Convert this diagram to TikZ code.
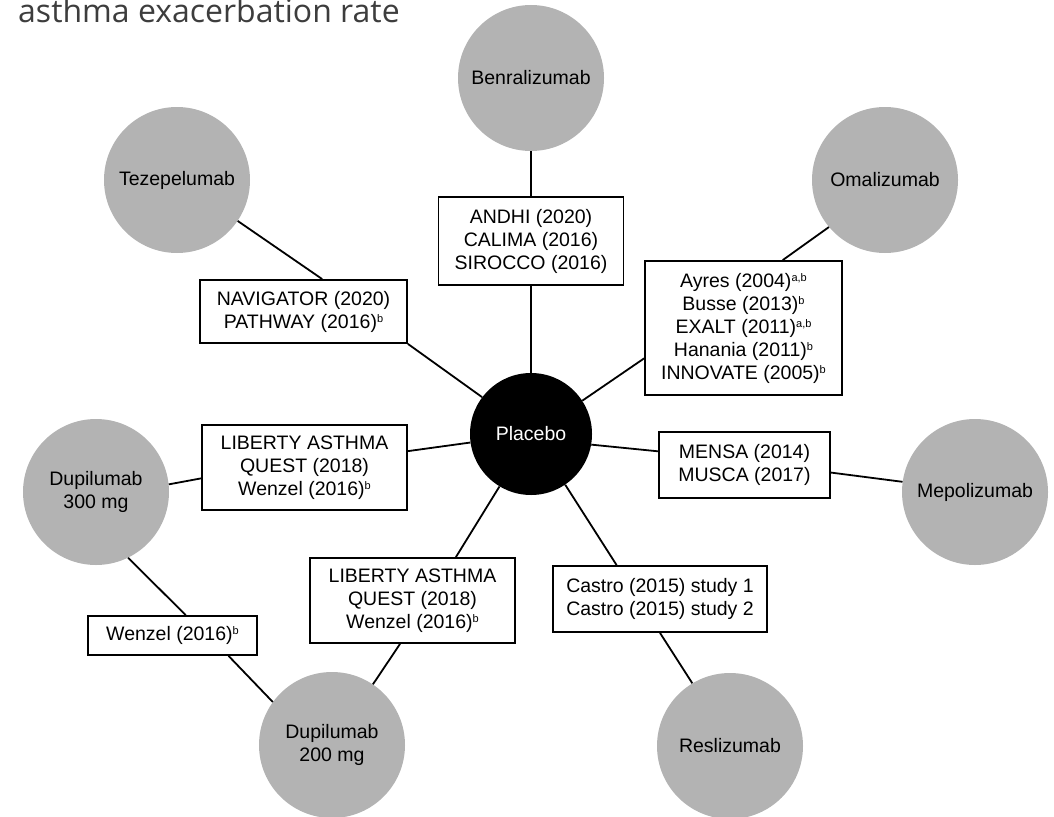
\documentclass[tikz,border=0pt]{standalone}
\usepackage{fontspec}
\setmainfont{Liberation Sans}
\newfontfamily\titlefont{Open Sans}
\definecolor{drugfill}{HTML}{B3B3B3}
\definecolor{titlegray}{HTML}{3D3D3D}
\newcommand{\supnote}[1]{\raisebox{6pt}{\fontsize{11}{11}\selectfont #1}}
\begin{document}
\begin{tikzpicture}[x=1pt,y=-1pt,
  drug/.style={circle,fill=drugfill,minimum size=146pt,inner sep=0pt,align=center,font=\fontsize{19.5}{23}\selectfont},
  plac/.style={circle,fill=black,text=white,minimum size=122pt,inner sep=0pt,font=\fontsize{19.5}{23}\selectfont},
  trial/.style={draw,line width=1.8pt,fill=white,align=center,inner sep=0pt,font=\fontsize{19.5}{23}\selectfont},
  link/.style={line width=1.8pt}]
\useasboundingbox (0,0) rectangle (1054,816);
\node[anchor=base west,inner sep=0pt,text=titlegray,font=\titlefont\fontsize{32}{38}\selectfont] (title) at (18,23) {asthma exacerbation rate};
\node[drug] (benra) at (531,78) {Benralizumab};
\node[drug] (teze) at (177,180) {Tezepelumab};
\node[drug] (omal) at (885,180) {Omalizumab};
\node[plac] (placebo) at (531,434) {Placebo};
\node[drug] (dupi300) at (96,492) {Dupilumab\\300 mg};
\node[drug] (mepo) at (975,492) {Mepolizumab};
\node[drug] (dupi200) at (332,745) {Dupilumab\\200 mg};
\node[drug] (resli) at (730,746) {Reslizumab};
\node[trial,minimum width=185pt,minimum height=88pt] (benratrials) at (531,241) {ANDHI (2020)\\CALIMA (2016)\\SIROCCO (2016)};
\node[trial,minimum width=207pt,minimum height=63pt] (tezetrials) at (303.5,311.5) {NAVIGATOR (2020)\\PATHWAY (2016)\supnote{b}};
\node[trial,minimum width=197pt,minimum height=134pt] (omaltrials) at (743.5,328) {Ayres (2004)\supnote{a,b}\\Busse (2013)\supnote{b}\\EXALT (2011)\supnote{a,b}\\Hanania (2011)\supnote{b}\\INNOVATE (2005)\supnote{b}};
\node[trial,minimum width=205pt,minimum height=85pt] (dupi300trials) at (304.5,467.5) {LIBERTY ASTHMA\\QUEST (2018)\\Wenzel (2016)\supnote{b}};
\node[trial,minimum width=171pt,minimum height=66pt] (mepotrials) at (744.5,465) {MENSA (2014)\\MUSCA (2017)};
\node[trial,minimum width=205pt,minimum height=85pt] (dupi200trials) at (412.5,600.5) {LIBERTY ASTHMA\\QUEST (2018)\\Wenzel (2016)\supnote{b}};
\node[trial,minimum width=214pt,minimum height=66pt] (reslitrials) at (660,599) {Castro (2015) study 1\\Castro (2015) study 2};
\node[trial,minimum width=169pt,minimum height=39pt] (wenzel) at (172.5,635.5) {Wenzel (2016)\supnote{b}};
\draw[link] (benra) -- (benratrials);
\draw[link] (benratrials) -- (placebo);
\draw[link] (teze.-34) -- (tezetrials.60);
\draw[link] (tezetrials.south east) -- (placebo.143);
\draw[link] (omal.220) -- (omaltrials.60);
\draw[link] (omaltrials.197) -- (placebo.33);
\draw[link] (placebo.-10) -- (mepotrials.171);
\draw[link] (mepotrials.-5) -- (mepo.172);
\draw[link] (placebo.304) -- (reslitrials.142);
\draw[link] (reslitrials.south) -- (resli.121);
\draw[link] (placebo.239) -- (dupi200trials.45);
\draw[link] (dupi200trials.254) -- (dupi200.56);
\draw[link] (placebo.188) -- (dupi300trials.9);
\draw[link] (dupi300trials.186) -- (dupi300.6);
\draw[link] (dupi300.296) -- (wenzel.57);
\draw[link] (wenzel.-20) -- (dupi200.144);
\end{tikzpicture}
\end{document}
